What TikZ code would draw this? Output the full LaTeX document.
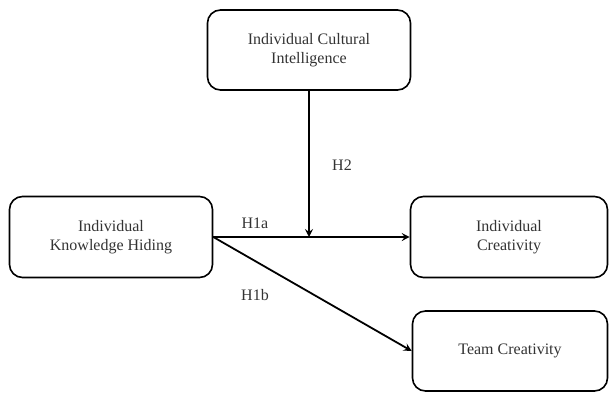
\documentclass[tikz,border=0pt]{standalone}
\usepackage{fontspec}
\setmainfont{Liberation Serif}
\usetikzlibrary{arrows.meta,positioning}
\usepackage{xcolor}

\begin{document}
\begin{tikzpicture}[
  x=1pt, y=1pt,
  box/.style={draw, line width=1.6pt, rounded corners=13pt, align=center, text=black!80,
    font=\fontsize{16}{19}\selectfont, minimum height=80pt, inner sep=0pt},
  hyp/.style={text=black!80, font=\fontsize{16}{19}\selectfont, inner sep=0pt},
  flow/.style={-{Stealth[length=8pt,width=8pt,inset=3pt]}, line width=1.8pt}
]
\useasboundingbox (0,0) rectangle (609,392);
\node[box, minimum width=203pt] (culture) at (309,342) {Individual Cultural\\Intelligence};
\node[box, minimum width=203pt, minimum height=81pt] (hiding) at (111,155) {Individual\\Knowledge Hiding};
\node[box, minimum width=197pt, minimum height=81pt] (indcre) at (509,155) {Individual\\Creativity};
\node[box, minimum width=195pt] (teamcre) at (510,41) {Team Creativity};
\node[hyp] (h2) at (342,227) {H2};
\node[hyp] (h1a) at (255,169) {H1a};
\node[hyp] (h1b) at (255,97) {H1b};
\coordinate (meet) at (culture.south |- hiding.east);
\draw[flow] (hiding) -- (indcre);
\draw[flow] (culture) -- (meet);
\draw[flow] (hiding.east) -- (teamcre.west);
\end{tikzpicture}
\end{document}
